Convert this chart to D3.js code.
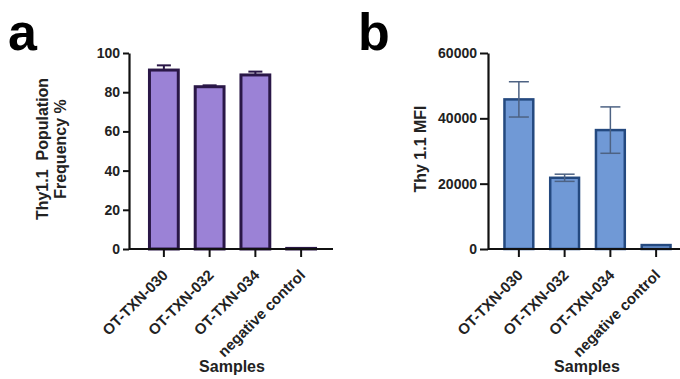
<!DOCTYPE html>
<html>
<head>
<meta charset="utf-8">
<script src="https://cdn.jsdelivr.net/npm/d3@7"></script>
<style>
  body { margin: 0; background: #fff; }
  svg { font-family: Arial, "Liberation Sans", sans-serif; }
</style>
</head>
<body>
<div id="chart"></div>
<script>
const samples = ["OT-TXN-030", "OT-TXN-032", "OT-TXN-034", "negative control"];

const freqMean = [91.3, 82.8, 88.8, 0.3];
const freqErr = [2.4, 0.7, 1.7, 0];
const freqTicks = [0, 20, 40, 60, 80, 100];

const mfiMean = [45800, 21800, 36400, 1200];
const mfiErr = [5400, 1100, 7100, 0];
const mfiTicks = [0, 20000, 40000, 60000];

const W = 680, H = 379;
const svg = d3.select("#chart").append("svg")
    .attr("width", W)
    .attr("height", H);

function panel(opts) {
    const g = svg.append("g");
    const x = d3.scaleBand()
        .domain(samples)
        .range([opts.x0, opts.x1])
        .paddingInner(0.37)
        .paddingOuter(0.185);
    const y = d3.scaleLinear()
        .domain([0, opts.max])
        .range([249, opts.top]);

    // bars
    g.selectAll("rect.bar")
        .data(samples)
        .enter().append("rect")
        .attr("class", "bar")
        .attr("x", d => x(d))
        .attr("width", x.bandwidth())
        .attr("y", (d, i) => y(opts.mean[i]))
        .attr("height", (d, i) => y(0) - y(opts.mean[i]))
        .attr("fill", opts.fill)
        .attr("stroke", opts.stroke)
        .attr("stroke-width", opts.barStroke);

    // error bars
    samples.forEach((s, i) => {
        if (!opts.err[i]) return;
        const cx = x(s) + x.bandwidth() / 2;
        const hi = y(opts.mean[i] + opts.err[i]);
        const lo = opts.twoSided ? y(opts.mean[i] - opts.err[i]) : y(opts.mean[i]);
        g.append("line")
            .attr("x1", cx).attr("x2", cx)
            .attr("y1", hi).attr("y2", lo)
            .attr("stroke", opts.errColor).attr("stroke-width", opts.errWidth);
        g.append("line")
            .attr("x1", cx - opts.cap).attr("x2", cx + opts.cap)
            .attr("y1", hi).attr("y2", hi)
            .attr("stroke", opts.errColor).attr("stroke-width", opts.errWidth);
        if (opts.twoSided) {
            g.append("line")
                .attr("x1", cx - opts.cap).attr("x2", cx + opts.cap)
                .attr("y1", lo).attr("y2", lo)
                .attr("stroke", opts.errColor).attr("stroke-width", opts.errWidth);
        }
    });

    // y axis
    const yAxis = g.append("g")
        .attr("transform", `translate(${opts.axisX},0)`)
        .call(d3.axisLeft(y).tickValues(opts.ticks).tickSize(opts.tick).tickSizeOuter(0).tickFormat(d3.format("d")));
    yAxis.select(".domain").attr("stroke", "#111").attr("stroke-width", 2.2);
    yAxis.selectAll(".tick line").attr("stroke", "#111").attr("stroke-width", 2);
    yAxis.selectAll(".tick text")
        .attr("x", -opts.tick - 3)
        .style("font-size", "14px")
        .style("font-weight", "bold")
        .attr("fill", "#222");

    // x axis
    const xAxis = g.append("g")
        .attr("transform", `translate(0,${y(0)})`);
    xAxis.append("line")
        .attr("x1", opts.axisX).attr("x2", opts.axisEnd)
        .attr("y1", 0).attr("y2", 0)
        .attr("stroke", "#111").attr("stroke-width", 2.2);
    samples.forEach(s => {
        const cx = x(s) + x.bandwidth() / 2;
        xAxis.append("line")
            .attr("x1", cx).attr("x2", cx)
            .attr("y1", 0).attr("y2", 8)
            .attr("stroke", "#111").attr("stroke-width", 2);
        xAxis.append("text")
            .attr("transform", `translate(${cx + 5},27) rotate(-45)`)
            .attr("text-anchor", "end")
            .style("font-size", "15px")
            .style("font-weight", "bold")
            .attr("fill", "#222")
            .text(s);
    });

    // axis titles
    g.append("text")
        .attr("x", opts.samplesX)
        .attr("y", 372)
        .attr("text-anchor", "middle")
        .style("font-size", "16px")
        .style("font-weight", "bold")
        .attr("fill", "#222")
        .text("Samples");

    opts.yTitle.forEach((t, k) => {
        g.append("text")
            .attr("transform", `translate(${opts.yTitleX + k * 18},149) rotate(-90)`)
            .attr("text-anchor", "middle")
            .style("font-size", "16px")
            .style("font-weight", "bold")
            .style("white-space", "pre")
            .attr("fill", "#222")
            .text(t);
    });

    // panel letter
    g.append("text")
        .attr("x", opts.letterX)
        .attr("y", 50)
        .style("font-size", "52px")
        .style("font-weight", "bold")
        .attr("fill", "#000")
        .text(opts.letter);
}

panel({
    letter: "a", letterX: 8,
    x0: 141, x1: 324, axisX: 129, axisEnd: 333, top: 53, max: 100,
    mean: freqMean, err: freqErr, ticks: freqTicks, twoSided: false,
    fill: "#9b82d6", stroke: "#2a1747", barStroke: 3,
    errColor: "#2a1747", errWidth: 2, cap: 7, tick: 6,
    yTitle: ["Thy1.1  Population", "Frequency %"], yTitleX: 48,
    samplesX: 232
});

panel({
    letter: "b", letterX: 358,
    x0: 496, x1: 679, axisX: 488, axisEnd: 680, top: 53, max: 60000,
    mean: mfiMean, err: mfiErr, ticks: mfiTicks, twoSided: true,
    fill: "#7099d6", stroke: "#24497f", barStroke: 2.5,
    errColor: "#4d6283", errWidth: 1.5, cap: 10, tick: 8,
    yTitle: ["Thy 1.1 MFI"], yTitleX: 426,
    samplesX: 587
});
</script>
</body>
</html>
